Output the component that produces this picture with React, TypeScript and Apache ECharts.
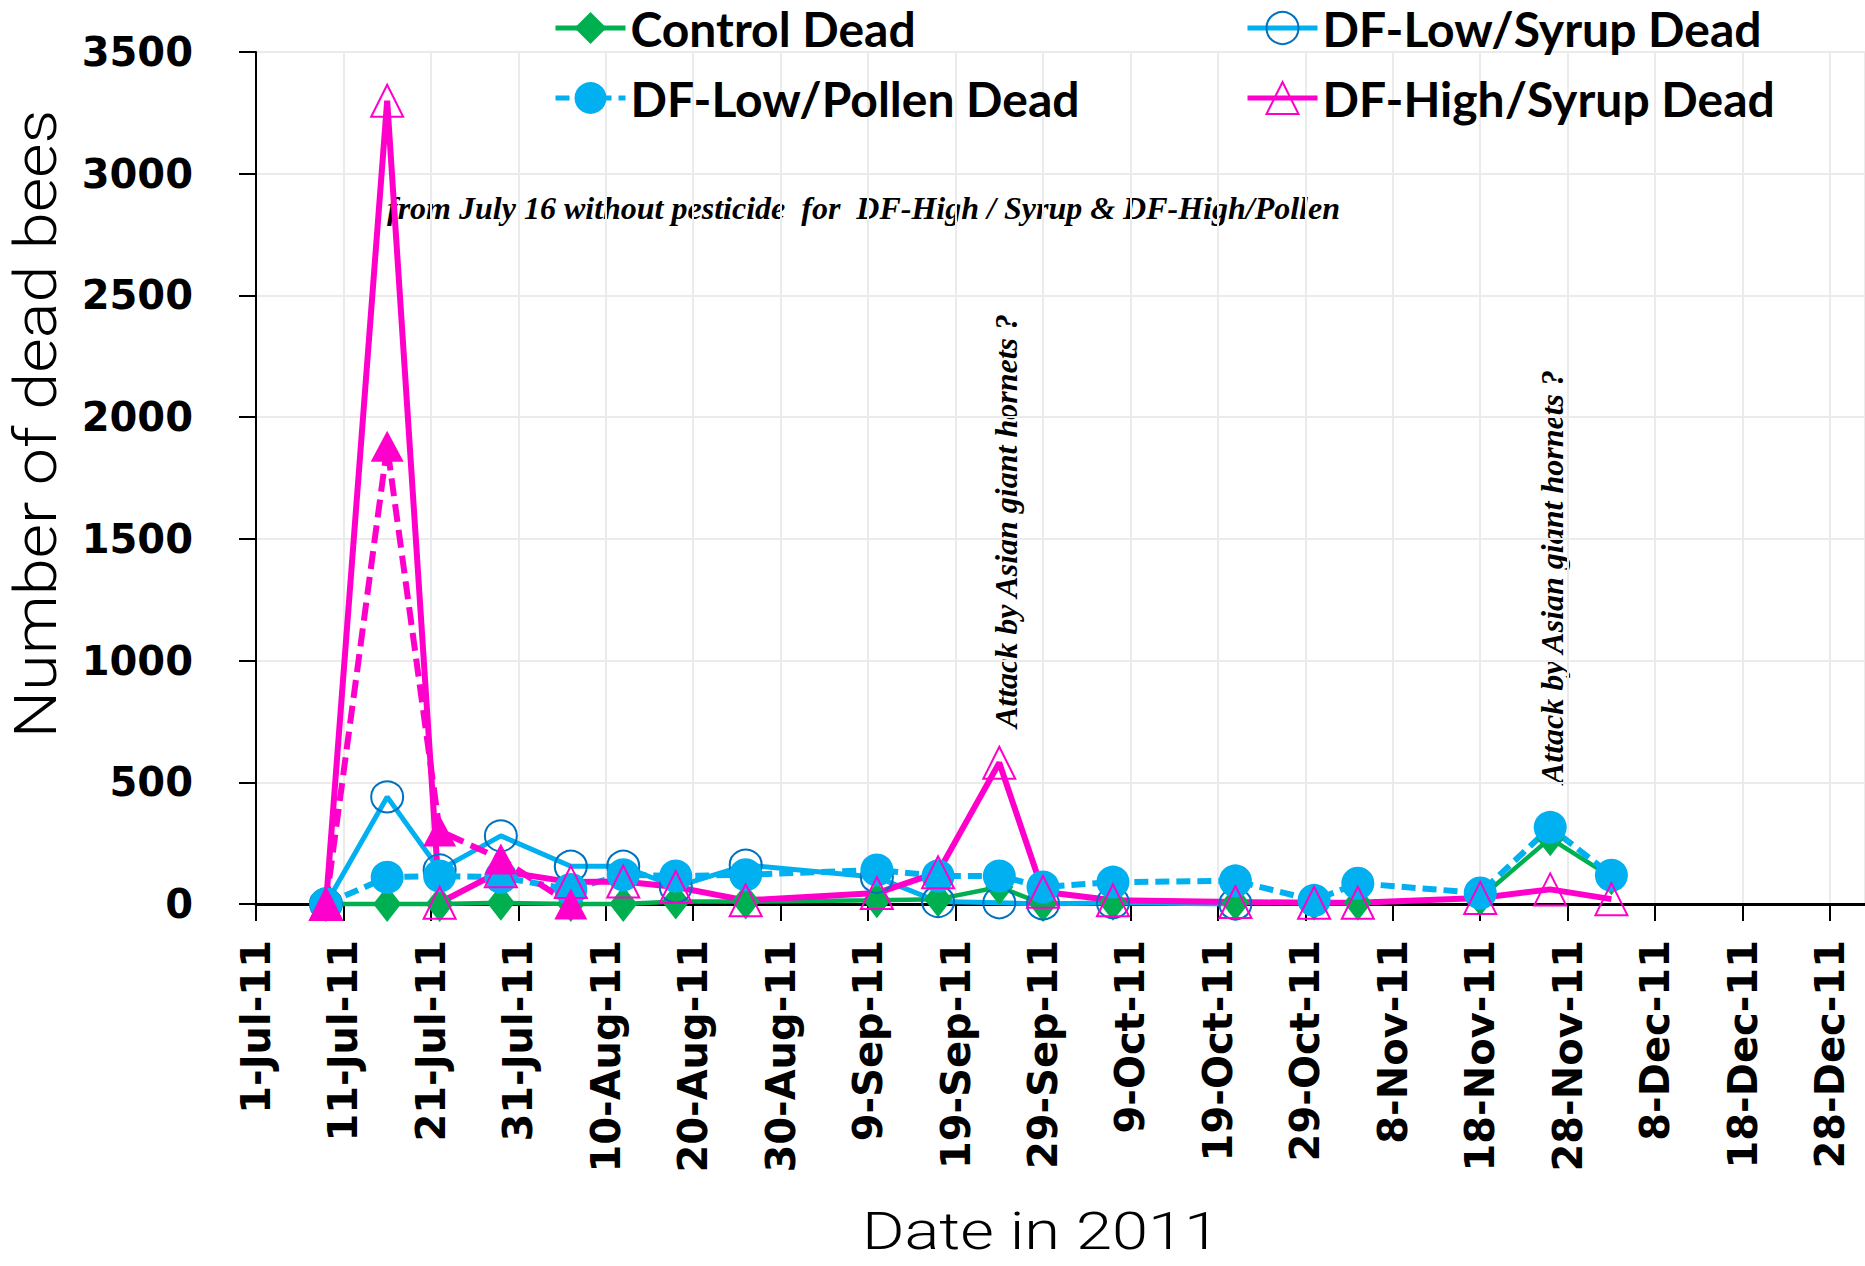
import React, { useEffect, useRef } from "react";
import * as echarts from "echarts";

// ---------- data ----------
const AXIS_START = "2011-07-01";
const AXIS_END = "2012-01-01";
const X_STEP_DAYS = 10;
const Y_MIN = 0;
const Y_MAX = 3500;
const Y_STEP = 500;

const sampleDates = [
  "2011-07-09", "2011-07-16", "2011-07-22", "2011-07-29", "2011-08-06",
  "2011-08-12", "2011-08-18", "2011-08-26", "2011-09-10", "2011-09-17",
  "2011-09-24", "2011-09-29", "2011-10-07", "2011-10-21", "2011-10-30",
  "2011-11-04", "2011-11-18", "2011-11-26", "2011-12-03",
];

const controlDead = [0, 0, 0, 5, 0, 0, 10, 10, 15, 20, 70, 0, 5, 5, 5, 5, 25, 270, 110];
const dfLowSyrupDead = [0, 440, 140, 280, 155, 155, 70, 160, 110, 10, 5, 0, 5, 0, null, null, null, null, null];
const dfLowPollenDead = [0, 110, 115, 110, 60, 120, 115, 120, 140, 115, 115, 70, 90, 95, 15, 85, 45, 315, 118];
const dfHighSyrupDead = [0, 3300, 5, 135, 90, 92, 70, 15, 45, 130, 580, 50, 15, 8, 5, 5, 25, 60, 20];
const dfHighPollenDead = [0, 1880, 300, 185, 0, null, null, null, null, null, null, null, null, null, null, null, null, null, null];

const seriesNames = [
  "Control Dead",
  "DF-Low/Syrup Dead",
  "DF-Low/Pollen Dead",
  "DF-High/Syrup Dead",
  "DF-High/Pollen Dead",
];

const noteTop = "from July 16 without pesticide  for  DF-High / Syrup & DF-High/Pollen";
const noteHornets = "Attack by Asian giant hornets ?";
const xAxisTitle = "Date in 2011";
const yAxisTitle = "Number of dead bees";

const MONTHS = ["Jan", "Feb", "Mar", "Apr", "May", "Jun", "Jul", "Aug", "Sep", "Oct", "Nov", "Dec"];

// ---------- helpers ----------
const DAY = 86400000;
const t0 = Date.parse(AXIS_START + "T00:00:00Z");
const dayOffset = (d: string) => Math.round((Date.parse(d + "T00:00:00Z") - t0) / DAY);
const xMax = dayOffset(AXIS_END);

const fmtTick = (v: number) => {
  if (Math.round(v) % X_STEP_DAYS !== 0) return "";
  const dt = new Date(t0 + Math.round(v) * DAY);
  return `${dt.getUTCDate()}-${MONTHS[dt.getUTCMonth()]}-${String(dt.getUTCFullYear()).slice(2)}`;
};

const pairs = (vals: (number | null)[]) =>
  sampleDates
    .map((d, i) => (vals[i] == null ? null : [dayOffset(d), vals[i] as number]))
    .filter((p) => p !== null) as number[][];

const GREEN = "#00B050";
const BLUE = "#00B0F0";
const DARKBLUE = "#0070C0";
const MAGENTA = "#FF00CC";

export default function App() {
  const ref = useRef<HTMLDivElement>(null);

  useEffect(() => {
    if (!ref.current) return;
    const chart = echarts.init(ref.current, null, { renderer: "svg" });

    const legendText = {
      fontFamily: "Lato",
      fontWeight: "bold" as const,
      fontSize: 48,
      color: "#000",
    };
    const mkLegend = (name: string, left: number, top: number) => ({
      data: [name],
      left,
      top,
      padding: 0,
      itemWidth: 70,
      itemHeight: 40,
      selectedMode: false,
      lineStyle: { width: 5 },
      textStyle: legendText,
    });

    const hornetStyle = {
      text: noteHornets,
      fontFamily: "Liberation Serif",
      fontStyle: "italic",
      fontWeight: "bold",
      fontSize: 32,
      fill: "#000",
      textAlign: "center",
      textVerticalAlign: "middle",
    };

    const option: any = {
      animation: false,
      backgroundColor: "#ffffff",
      grid: { left: 256, top: 52, right: 0, bottom: 362, containLabel: false },
      legend: [
        mkLegend(seriesNames[0], 553, 4),
        mkLegend(seriesNames[1], 1245, 4),
        mkLegend(seriesNames[2], 553, 74),
        mkLegend(seriesNames[3], 1245, 74),
      ],
      xAxis: {
        type: "value",
        min: 0,
        max: xMax,
        interval: X_STEP_DAYS,
        axisLine: { show: true, onZero: false, lineStyle: { color: "#000", width: 3 } },
        axisTick: { show: true, length: 17, lineStyle: { color: "#000", width: 2 } },
        axisLabel: {
          rotate: 90,
          margin: 36,
          formatter: fmtTick,
          fontFamily: "DejaVu Sans",
          fontWeight: "bold",
          fontSize: 40,
          color: "#000",
          showMaxLabel: false,
        },
        splitLine: { show: true, lineStyle: { color: "#EBEBEB", width: 2 } },
      },
      yAxis: {
        type: "value",
        min: Y_MIN,
        max: Y_MAX,
        interval: Y_STEP,
        axisLine: { show: true, lineStyle: { color: "#000", width: 2 } },
        axisTick: { show: true, length: 17, lineStyle: { color: "#000", width: 2 } },
        axisLabel: {
          margin: 63,
          formatter: (v: number) => String(v),
          fontFamily: "DejaVu Sans",
          fontWeight: "bold",
          fontSize: 40,
          color: "#000",
        },
        splitLine: { show: true, lineStyle: { color: "#EBEBEB", width: 2 } },
      },
      series: [
        {
          name: seriesNames[0],
          type: "line",
          clip: false,
          data: pairs(controlDead),
          symbol: "diamond",
          symbolSize: [28, 36],
          lineStyle: { color: GREEN, width: 4.5 },
          itemStyle: { color: GREEN },
        },
        {
          name: seriesNames[1],
          type: "line",
          clip: false,
          data: pairs(dfLowSyrupDead),
          symbol: "circle",
          symbolSize: [32, 31],
          lineStyle: { color: BLUE, width: 5 },
          itemStyle: { color: "rgba(0,0,0,0)", borderColor: DARKBLUE, borderWidth: 2 },
        },
        {
          name: seriesNames[2],
          type: "line",
          clip: false,
          data: pairs(dfLowPollenDead),
          symbol: "circle",
          symbolSize: 33,
          lineStyle: { color: BLUE, width: 6, type: [14, 7] },
          itemStyle: { color: BLUE },
        },
        {
          name: seriesNames[3],
          type: "line",
          clip: false,
          data: pairs(dfHighSyrupDead),
          symbol: "triangle",
          symbolSize: [32, 32],
          lineStyle: { color: MAGENTA, width: 6 },
          itemStyle: { color: "rgba(0,0,0,0)", borderColor: MAGENTA, borderWidth: 2 },
        },
        {
          name: seriesNames[4],
          type: "line",
          clip: false,
          data: pairs(dfHighPollenDead),
          symbol: "triangle",
          symbolSize: [33, 31],
          lineStyle: { color: MAGENTA, width: 6, type: [18, 8] },
          itemStyle: { color: MAGENTA },
        },
      ],
      graphic: [
        {
          type: "text",
          x: 387,
          y: 208,
          style: {
            text: noteTop,
            fontFamily: "Liberation Serif",
            fontStyle: "italic",
            fontWeight: "bold",
            fontSize: 32,
            fill: "#000",
            textAlign: "left",
            textVerticalAlign: "middle",
          },
        },
        { type: "text", x: 1006, y: 521, rotation: Math.PI / 2, style: { ...hornetStyle } },
        { type: "text", x: 1552, y: 577, rotation: Math.PI / 2, style: { ...hornetStyle } },
        {
          type: "text",
          x: 35,
          y: 424,
          rotation: Math.PI / 2,
          scaleX: 1.11,
          style: {
            text: yAxisTitle,
            fontFamily: "Roboto",
            fontWeight: 300,
            fontSize: 60,
            fill: "#000",
            textAlign: "center",
            textVerticalAlign: "middle",
          },
        },
        {
          type: "text",
          x: 1041,
          y: 1231,
          scaleX: 1.25,
          style: {
            text: xAxisTitle,
            fontFamily: "Roboto",
            fontWeight: 300,
            fontSize: 52,
            lineHeight: 52,
            fill: "#000",
            textAlign: "center",
            textVerticalAlign: "middle",
          },
        },
      ],
    };

    chart.setOption(option);
    return () => chart.dispose();
  }, []);

  return (
    <div
      ref={ref}
      style={{ position: "fixed", left: 0, top: 0, width: "1865px", height: "1266px", background: "#fff" }}
    />
  );
}
